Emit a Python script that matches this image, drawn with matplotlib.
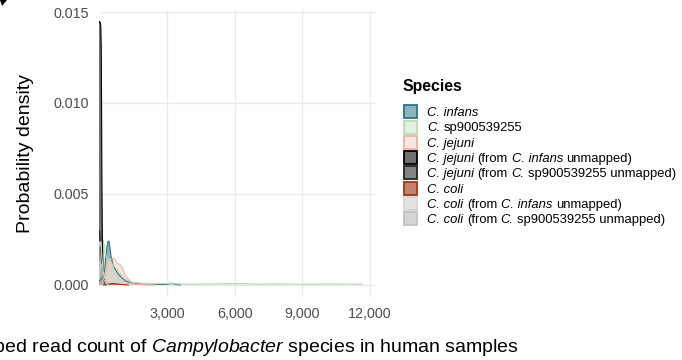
import matplotlib
matplotlib.use("Agg")
import matplotlib.pyplot as plt
from matplotlib.patches import Rectangle, Polygon
from matplotlib.colors import to_rgba

plt.rcParams['font.family'] = ['Liberation Sans', 'DejaVu Sans']
plt.rcParams['mathtext.fontset'] = 'custom'
plt.rcParams['mathtext.rm'] = 'Liberation Sans'
plt.rcParams['mathtext.it'] = 'Liberation Sans:italic'

W, H = 682, 360

# density curves per species (read count, probability density)
infans_x = [0, 150, 250, 300, 350, 400, 440, 480, 530, 600, 700, 850, 1000, 1200, 1500, 2000,
            2600, 3000, 3200, 3400, 3600]
infans_y = [0.0002, 0.0004, 0.0008, 0.0015, 0.0021, 0.0024, 0.0024, 0.0021, 0.0016, 0.0012,
            0.0009, 0.0006, 0.0004, 0.0002, 0.0001, 0.00005, 0.00003, 0.00004, 0.00010,
            0.00003, 0.0]

sp9_x = [0, 60, 120, 180, 230, 280, 350, 450, 550, 700, 900, 1100, 1300, 1500, 1800, 2200,
         3000, 4000, 5000, 6000, 6500, 7000, 8000, 9000, 10000, 11000, 11670]
sp9_y = [0.0003, 0.0012, 0.0023, 0.00248, 0.0022, 0.0017, 0.0015, 0.0014, 0.0012, 0.0010,
         0.0007, 0.0004, 0.00025, 0.00015, 0.0001, 0.00008, 0.00008, 0.00005, 0.00006,
         0.00008, 0.00007, 0.00005, 0.00006, 0.00004, 0.00006, 0.00005, 0.00004]

jejuni_x = [150, 250, 330, 400, 500, 650, 800, 950, 1050, 1160, 1280, 1390, 1550, 1800, 2500]
jejuni_y = [0.0001, 0.0004, 0.0010, 0.00135, 0.0014, 0.00148, 0.0012, 0.0011, 0.0009, 0.00055,
            0.00035, 0.00018, 0.00005, 0.00002, 0.0]

jej_inf_x = [0, 20, 40, 60, 80, 100, 115, 130, 150, 180, 230, 300]
jej_inf_y = [0.0144, 0.01448, 0.01445, 0.0144, 0.0142, 0.0130, 0.0095, 0.0055, 0.0025, 0.0008,
             0.0002, 0.0]

jej_sp9_x = [0, 30, 60, 100, 150, 220, 300, 400]
jej_sp9_y = [0.0030, 0.0029, 0.0024, 0.0015, 0.0008, 0.0004, 0.0002, 0.0]

coli_x = [200, 400, 600, 800, 1000, 1300]
coli_y = [0.0, 0.00005, 0.00008, 0.00006, 0.00003, 0.0]

coli_inf_x = [0, 50, 100, 150, 200, 300, 400]
coli_inf_y = [0.0022, 0.0024, 0.0020, 0.0012, 0.0006, 0.0002, 0.0]

coli_sp9_x = [0, 50, 100, 150, 200, 300, 400]
coli_sp9_y = [0.0012, 0.0013, 0.0011, 0.0007, 0.0003, 0.0001, 0.0]

# legend labels as (text, italic) pieces
lab_infans = [('C. infans', True)]
lab_sp9 = [('C.', True), ('sp900539255', False)]
lab_jejuni = [('C. jejuni', True)]
lab_jej_inf = [('C. jejuni', True), ('(from', False), ('C. infans', True), ('unmapped)', False)]
lab_jej_sp9 = [('C. jejuni', True), ('(from', False), ('C.', True), ('sp900539255 unmapped)', False)]
lab_coli = [('C. coli', True)]
lab_coli_inf = [('C. coli', True), ('(from', False), ('C. infans', True), ('unmapped)', False)]
lab_coli_sp9 = [('C. coli', True), ('(from', False), ('C.', True), ('sp900539255 unmapped)', False)]

species = [
    (lab_infans, infans_x, infans_y, '#3F8294', '#2F7386'),
    (lab_sp9, sp9_x, sp9_y, '#D0E6CB', '#BCDAB5'),
    (lab_jejuni, jejuni_x, jejuni_y, '#F6D6CA', '#EBB3A3'),
    (lab_jej_inf, jej_inf_x, jej_inf_y, '#111111', '#000000'),
    (lab_jej_sp9, jej_sp9_x, jej_sp9_y, '#333333', '#222222'),
    (lab_coli, coli_x, coli_y, '#9D2F07', '#9A3A18'),
    (lab_coli_inf, coli_inf_x, coli_inf_y, '#D0D0D0', '#D6D6D6'),
    (lab_coli_sp9, coli_sp9_x, coli_sp9_y, '#BBBBBB', '#C2C2C2'),
]
alpha = 0.6

xticks = [3000, 6000, 9000, 12000]
xtick_labels = ['3,000', '6,000', '9,000', '12,000']
yticks = [0.0, 0.005, 0.010, 0.015]
ytick_labels = ['0.000', '0.005', '0.010', '0.015']

fig = plt.figure(figsize=(W / 100, H / 100), dpi=100)
ax = fig.add_axes([99 / W, 63 / H, 277 / W, 287 / H])

for segs, xs, ys, col, edge in species:
    # area plus its upper outline only
    ax.fill_between(xs, ys, 0, facecolor=to_rgba(col, alpha), edgecolor='none', linewidth=0)
    ax.plot(xs, ys, color=edge, linewidth=0.8)

ax.set_xlim(0, 12260)
ax.set_ylim(-0.00066, 0.01511)
ax.set_xticks(xticks)
ax.set_xticklabels(xtick_labels)
ax.set_yticks(yticks)
ax.set_yticklabels(ytick_labels)
ax.tick_params(length=0, labelsize=10.3, labelcolor='#4D4D4D', pad=7)
for s in ax.spines.values():
    s.set_visible(False)
ax.grid(True, color='#EBEBEB', linewidth=1.0)
ax.set_axisbelow(True)

ax.set_ylabel('Probability density', fontsize=14, labelpad=14)
ax.set_xlabel(r'Mapped read count of $\mathit{Campylobacter}$ species in human samples',
              fontsize=14, labelpad=12)

# legend drawn by hand so labels can mix italic and upright text
fig.text(403 / W, 1 - 87 / H, 'Species', fontsize=11.4, fontweight='bold',
         ha='left', va='center')
renderer = fig.canvas.get_renderer()
leg_size = 9.4
space_px = 0.278 * leg_size * 100 / 72
for i, (segs, xs, ys, col, edge) in enumerate(species):
    yc = 111.7 + i * 15.3
    fig.patches.append(Rectangle((403.5 / W, 1 - (yc + 6.5) / H), 13 / W, 13 / H,
                                 transform=fig.transFigure, facecolor=to_rgba(col, alpha),
                                 edgecolor=edge, linewidth=1.3))
    xpos = 427.0
    for text, italic in segs:
        t = fig.text(xpos / W, 1 - (yc + 4.4) / H, text, fontsize=leg_size,
                     style='italic' if italic else 'normal', ha='left', va='baseline')
        bb = t.get_window_extent(renderer)
        xpos = bb.x1 + space_px

# corner of the panel letter
fig.patches.append(Polygon([(0, 1), (7 / W, 1), (2 / W, 1 - 6 / H)], closed=True,
                           transform=fig.transFigure, facecolor='black', edgecolor='none'))

fig.savefig('out.png', dpi=100)
